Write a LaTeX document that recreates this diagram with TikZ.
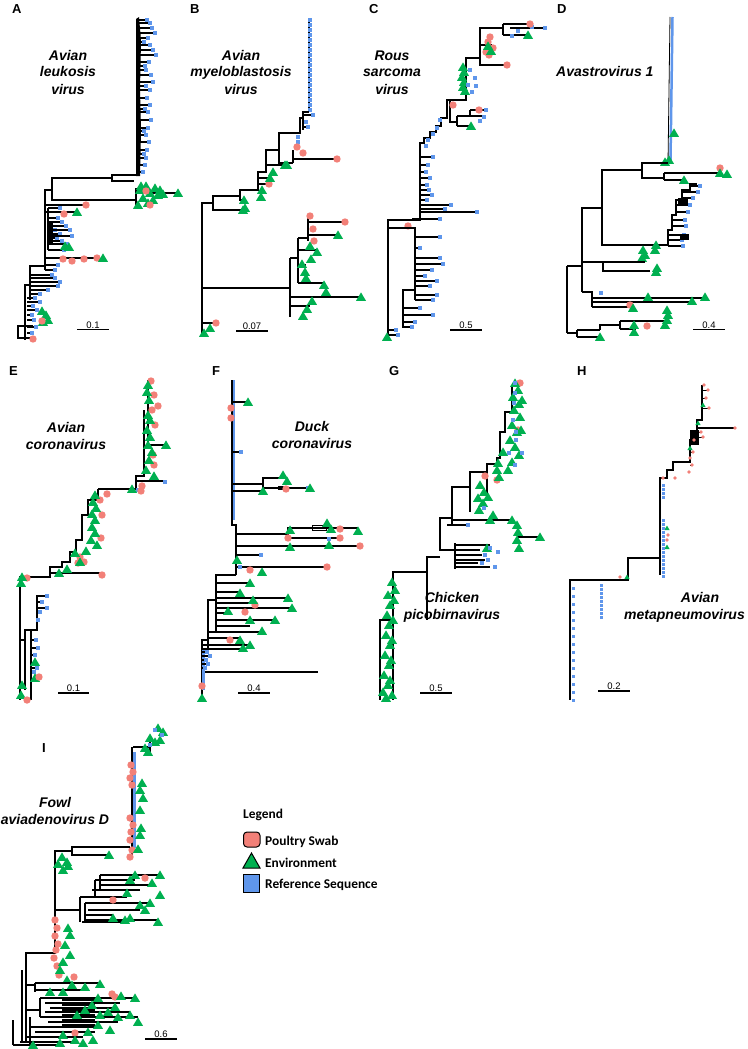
\documentclass[tikz,border=0pt]{standalone}
\usepackage{fontspec}
\setmainfont{Liberation Sans}
\newfontfamily\legendfont{Carlito}
\definecolor{swabred}{RGB}{242,128,120}
\definecolor{envgreen}{RGB}{0,176,80}
\definecolor{refblue}{RGB}{95,150,235}
\tikzset{
  tree/.style={line width=1.3pt},
  panel/.style={font=\fontsize{13}{13}\selectfont\bfseries, anchor=base west, inner sep=0pt},
  virus/.style={font=\fontsize{14}{17}\selectfont\bfseries\itshape, anchor=base, inner sep=0pt},
  legtext/.style={font=\legendfont\fontsize{13.4}{14}\selectfont\bfseries, anchor=base west, inner sep=0pt},
  swab/.pic={\fill[swabred] (0,0) circle (3.7);},
  env/.pic={\fill[envgreen] (-5,3.8) -- (5,3.8) -- (0,-4.6) -- cycle;},
  refs/.pic={\fill[refblue] (-2,-2) rectangle (2,2);},
  swabsm/.pic={\fill[swabred] (0,0) circle (1.9);},
  envsm/.pic={\fill[envgreen] (-2.6,2) -- (2.6,2) -- (0,-2.4) -- cycle;},
  refsm/.pic={\fill[refblue] (-1.5,-1.5) rectangle (1.5,1.5);}
}
% tip markers from lists x/y
\newcommand{\swabs}[1]{\foreach \x/\y in {#1} \pic at (\x,\y) {swab};}
\newcommand{\envs}[1]{\foreach \x/\y in {#1} \pic at (\x,\y) {env};}
\newcommand{\refseqs}[1]{\foreach \x/\y in {#1} \pic at (\x,\y) {refs};}
\newcommand{\reftips}[2]{\foreach \x/\y in {#2} {\draw[tree] (#1,\y) -- (\x,\y); \pic at (\x,\y) {refs};}}
\newcommand{\scalebar}[5]{\draw[tree] (#2,#4) -- (#3,#4) node[midway, above=0.6pt, inner sep=0pt, font=\fontsize{9.5}{10}\selectfont] (#1) {#5};}

\begin{document}
\begin{tikzpicture}[x=1pt,y=-1pt]
\useasboundingbox (0,0) rectangle (747,1049);

% panel letters
\node[panel] (pA) at (12,13.5) {A};
\node[panel] (pB) at (190,13.5) {B};
\node[panel] (pC) at (369,13.5) {C};
\node[panel] (pD) at (557,13.5) {D};
\node[panel] (pE) at (9,375) {E};
\node[panel] (pF) at (212,375) {F};
\node[panel] (pG) at (389,375) {G};
\node[panel] (pH) at (577,375) {H};
\node[panel] (pI) at (42,752) {I};

% virus names
\node[virus] (nA1) at (68,60) {Avian};
\node[virus] (nA2) at (68,77) {leukosis};
\node[virus] (nA3) at (68,94) {virus};
\node[virus] (nB1) at (241,60) {Avian};
\node[virus] (nB2) at (241,77) {myeloblastosis};
\node[virus] (nB3) at (241,94) {virus};
\node[virus] (nC1) at (392,60) {Rous};
\node[virus] (nC2) at (392,77) {sarcoma};
\node[virus] (nC3) at (392,94) {virus};
\node[virus, anchor=base west] (nD1) at (556,77) {Avastrovirus 1};
\node[virus] (nE1) at (66,432) {Avian};
\node[virus] (nE2) at (66,449) {coronavirus};
\node[virus] (nF1) at (312,431) {Duck};
\node[virus] (nF2) at (312,448) {coronavirus};
\node[virus] (nG1) at (452,602) {Chicken};
\node[virus] (nG2) at (452,619) {picobirnavirus};
\node[virus] (nH1) at (700,602) {Avian};
\node[virus, anchor=base east] (nH2) at (745,619) {metapneumovirus};
\node[virus] (nI1) at (55,807) {Fowl};
\node[virus] (nI2) at (55,824) {aviadenovirus D};

% scale bars
\scalebar{sA}{77}{109}{329.5}{0.1}
\scalebar{sB}{236}{268}{331}{0.07}
\scalebar{sC}{450}{482}{330}{0.5}
\scalebar{sD}{693}{725}{329.5}{0.4}
\scalebar{sE}{58}{89}{693}{0.1}
\scalebar{sF}{238}{270}{693}{0.4}
\scalebar{sG}{420}{452}{693}{0.5}
\scalebar{sH}{598}{630}{691}{0.2}
\scalebar{sI}{145}{177}{1039}{0.6}

% ---------- A ----------
\fill (136,19) -- (139,17) -- (141,40) -- (140,90) -- (141,130) -- (140,176) -- (136,176) -- cycle;
\reftips{139}{147/20, 150/23, 152/28, 155/33, 148/38, 144/42, 150/45, 153/50, 156/55, 149/62, 145/66, 146/70, 151/75, 153/82, 146/86, 150/90, 147/98, 150/105, 145/109, 148/112, 151/120, 148/128, 144/131, 146/135, 149/142, 147/150, 144/154, 146/158, 145/165, 143/172}
\draw[tree] (137,175) -| (112,181) -- (134,181);
\draw[tree] (112,178) -- (52,178) -- (52,200) -- (136,200);
\draw[tree] (136,188) -- (136,206);
\draw[tree] (136,193) -- (178,193);
\envs{140/190, 146/186, 150/193, 155/188, 158/195, 143/198, 148/203, 138/205, 153/200, 160/190, 163/194, 141/186, 178/193}
\swabs{150/205, 146/191}
\draw[tree] (52,190) -| (45,270);
\draw[tree] (45,205) -- (86,205);
\draw[tree] (48,208) -- (48,250);
\fill (47,222) rectangle (53,245);
\reftips{48}{60/208, 58/218, 62/222, 66/226, 55/230, 60/234, 70/230, 57/238, 72/236, 62/241, 67/244, 64/250}
\draw[tree] (45,212) -- (77,212);
\swabs{86/205, 64/214}
\envs{65/246, 69/247, 77/212}
\draw[tree] (45,258) -- (100,258);
\swabs{63/259, 72/261, 84/259, 97/258}
\envs{103/258}
\reftips{45}{58/265, 55/270}
\draw[tree] (45,266) -| (30,300);
\reftips{30}{52/275, 55/278, 60/282, 58/286, 48/290, 40/294}
\draw[tree] (30,285) -| (25,340);
\reftips{27}{35/298, 40/302, 33/306, 37/310, 32/315, 34/320, 36/327, 32/333}
\draw[tree] (33,326) -| (18,338) -- (33,338);
\envs{42/311, 46/315, 48/320, 43/322}
\swabs{42/321, 33/339}

% ---------- B ----------
\draw[tree] (309,20) -- (309,112);
\foreach \y in {20,25,...,110} \pic at (310,\y) {refs};
\draw[tree] (309,112) -| (303,130);
\reftips{303}{313/115, 306/122, 308/127}
\draw[tree] (303,118) -| (300,133) -- (279,133) -- (279,163) -- (293,163);
\refseqs{298/137, 298/142}
\draw[tree] (293,150) -- (293,163);
\draw[tree] (293,159) -- (337,159);
\draw[tree] (279,150) -- (266,150) -- (266,172) -- (258,172) -- (258,190) -- (240,190) -- (240,200) -- (244,200);
\draw[tree] (266,165) -- (285,165);
\draw[tree] (258,178) -- (270,178);
\draw[tree] (258,184) -- (269,184);
\draw[tree] (240,196) -| (213,210) -- (243,210);
\draw[tree] (213,203) -- (202,203) -- (202,333);
\swabs{297/147, 303/153, 337/159, 269/184}
\envs{287/165, 285/165, 273/172, 270/178, 262/190, 261/197, 244/200, 245/208, 243/210}
\draw[tree] (202,288) -- (290,288);
\draw[tree] (290,258) -- (290,317) (290,258) -- (298,258);
\draw[tree] (298,238) -- (298,283) (298,238) -- (308,238);
\draw[tree] (345,222) -| (308,241);
\draw[tree] (308,216) -- (308,241) (308,235) -- (338,235);
\draw[tree] (298,250) -- (316,250) (298,265) -- (306,265) (298,283) -- (324,283);
\draw[tree] (290,297) -- (361,297) (290,306) -- (310,306);
\draw[tree] (202,323) -- (216,323);
\swabs{310/216, 313/229, 314/241, 345/222, 216/323}
\envs{338/235, 310/246, 317/252, 311/259, 302/264, 305/272, 306/278, 324/285, 361/297, 326/292, 312/301, 307/309, 303/316, 204/333, 210/328}

% ---------- C ----------
\draw[tree] (503,28) -| (480,65) -- (507,65);
\draw[tree] (503,24) -- (503,35) (503,24) -- (530,24) (510,28) -- (545,28) (503,35) -- (528,35);
\refseqs{532/27, 545/28, 518/31, 512/36}
\draw[tree] (480,45) -- (492,45);
\swabs{530/24, 490/37, 488/42, 493/48, 486/52, 489/55, 507/65}
\envs{528/35, 488/46, 491/51}
\draw[tree] (480,58) -| (466,100) -- (450,100);
\envs{463/67, 464/72, 462/77, 464/82, 463/87, 465/91}
\refseqs{470/70, 475/78, 468/85, 472/92, 476/86}
\draw[tree] (450,100) |- (457,122);
\draw[tree] (457,116) -- (457,126) (457,116) -- (484,116) (457,126) -- (471,126) (470,110) -- (486,110) (470,110) -- (470,116);
\swabs{453/105, 479/110}
\refseqs{486/110, 484/117, 480/121}
\envs{471/126}
\draw[tree] (450,100) -- (447,100) -- (447,118) -- (441,118) -- (441,126) -- (436,126) -- (436,132) -- (430,132) -- (430,138) -- (424,138) -- (424,143) -- (420,143) -- (420,220) -- (388,220) -- (388,340);
\reftips{420}{433/157, 428/165, 426/172, 430/178, 427/185, 429/190, 432/195, 427/200, 451/205, 445/209, 477/212}
\refseqs{440/120, 437/128, 433/134, 428/140, 426/146}
\reftips{412}{440/219}
\swabs{408/226}
\draw[tree] (388,228) -- (415,228) -- (415,300);
\reftips{415}{440/237, 420/248, 440/258, 443/264, 432/270, 425/276, 437/281, 430/286, 437/295, 433/300}
\draw[tree] (415,290) -| (403,328);
\reftips{403}{433/315, 420/308, 415/322, 412/327}
\reftips{388}{396/330, 398/335}
\envs{387/337}

% ---------- D ----------
\draw[refblue, line width=2.5pt] (672.5,17) -- (670.5,160);
\draw[line width=0.8pt] (670,17) -- (668,163);
\envs{674/133, 665/162, 669/160}
\draw[tree] (668,163) -- (642,163) -- (642,178) -- (664,178);
\draw[tree] (664,173) -- (664,180) (664,173) -- (720,173) (664,180) -- (684,180);
\swabs{720/168}
\envs{720/173, 727/174, 684/180}
\draw[tree] (642,170) -- (602,170) -- (602,245) -- (668,245);
\draw[tree] (668,245) -- (668,230) -- (672,230) -- (672,215) -- (676,215) -- (676,200) -- (682,200) -- (682,190) -- (690,190) -- (690,184) -- (697,184);
\foreach \a/\b/\y in {690/700/186, 682/698/192, 682/693/198, 676/690/205, 676/688/212, 672/685/220, 672/686/226, 668/684/235, 668/682/240, 668/683/246}
  {\draw[tree] (\a,\y) -- (\b,\y); \pic at (\b,\y) {refs};}
\fill (678,198) rectangle (688,205);
\fill (680,234) rectangle (689,240);
\envs{643/250, 655/250, 642/258, 657/268, 656/245, 656/272, 645/255}
\draw[tree] (602,208) -- (582,208) -- (582,292);
\draw[tree] (582,262) -- (645,262);
\draw[tree] (603,262) -- (603,271) -- (650,271);
\draw[tree] (567,266) -- (583,266) (567,266) -- (567,333);
\draw[tree] (582,292) -- (592,292) -- (592,307);
\draw[tree] (592,298) -- (705,298) (592,302) -- (690,302) (592,307) -- (632,307);
\refseqs{601/293}
\swabs{630/305}
\envs{648/297, 692/301, 705/297, 633/308}
\draw[tree] (567,333) -- (577,333) (577,330) -- (577,337) (577,330) -- (600,330) (577,337) -- (600,337);
\draw[tree] (600,330) -- (600,325) -- (620,325);
\draw[tree] (620,321) -- (620,329) (620,321) -- (668,321) (620,329) -- (636,329);
\swabs{647/326}
\envs{600/337, 634/325, 634/332, 667/310, 668/315, 667/320, 665/325}

% ---------- E ----------
\draw[tree] (148,380) -- (148,445) -- (166,445);
\draw[tree] (144,410) -- (144,476) -- (136,476) -- (136,489) -- (98,489);
\draw[tree] (136,481) -- (165,481);
\draw[tree] (98,489) -- (98,500) -- (88,500) -- (88,515) -- (82,515) -- (82,540) -- (76,540) -- (76,552) -- (70,552) -- (70,562) -- (62,562) -- (62,567) -- (50,567) -- (50,577) -- (20,577) -- (20,700);
\draw[tree] (50,573) -- (102,573);
\refseqs{165/482, 138/490}
\swabs{151/381, 154/395, 152/410, 155/425, 153/455, 154/465, 158/406, 142/486, 141/491, 107/494, 100/500, 101/538, 102/515, 78/563, 84/562, 80/557, 102/575, 27/578}
\envs{148/385, 147/392, 149/400, 148/415, 150/420, 147/430, 150/437, 148/445, 152/452, 149/460, 146/470, 166/445, 154/476, 132/489, 95/495, 93/502, 96/508, 92/514, 95/520, 92/527, 95/533, 91/540, 97/545, 86/551, 75/553, 80/562, 67/569, 59/573, 22/577}
\draw[tree] (47,596) -- (37,596) -- (37,630) -- (25,630) -- (25,690);
\draw[tree] (20,640) -- (25,640);
\draw[tree] (37,608) -- (47,608);
\reftips{37}{42/602, 40/612, 38/620}
\refseqs{47/596, 47/608}
\draw[tree] (31,630) -- (31,700);
\reftips{31}{36/640, 38/648, 35/655, 37/668, 34/672}
\envs{35/662, 35/678, 22/685, 21/695, 21/583}
\swabs{39/677, 27/700}

% ---------- F ----------
\draw[refblue, line width=3.5pt] (233,380) -- (233,520);
\draw[tree] (232,380) -- (232,525) -- (236,525) -- (236,575);
\draw[tree] (233,402) -- (248,402) (233,452) -- (241,452);
\draw[tree] (232,484) -| (263,478) -- (283,478);
\draw[tree] (263,484) |- (278,488) -- (310,488);
\draw[tree] (232,491) -- (262,491);
\fill (278,486) rectangle (286,490);
\refseqs{241/452, 308/488}
\swabs{231/408, 231/418, 286/489}
\envs{248/402, 283/475, 287/481, 310/488, 263/491}
\draw[tree] (236,534) -| (288,528) -- (358,528);
\draw[tree] (288,534) -- (288,538) -- (340,538);
\draw[line width=1pt] (312,525.5) rectangle (326,530.5);
\draw[tree] (236,546) -- (360,546) (236,555) -- (262,555) (236,567) -- (327,567);
\refseqs{329/539, 261/555, 240/567}
\swabs{288/538, 340/538, 340/529, 360/546, 327/567, 250/570}
\envs{290/530, 327/523, 331/529, 358/531, 329/545, 290/547, 237/560, 262/572}
\draw[tree] (236,575) -- (216,575) -- (216,632);
\draw[tree] (216,600) -- (208,600) -- (208,648);
\draw[tree] (208,640) -- (202,640) -- (202,700);
\draw[tree] (216,583) -- (250,583) (216,592) -- (240,592) (216,598) -- (288,598) (216,603) -- (253,603) (216,608) -- (292,608) (216,613) -- (228,613) (216,620) -- (275,620) (216,626) -- (250,626);
\draw[tree] (208,632) -- (262,632) (208,638) -- (240,638);
\draw[tree] (202,645) -- (250,645) (202,649) -- (240,649) (202,672) -- (318,672);
\draw[refblue, line width=3pt] (203,650) -- (203,690);
\reftips{202}{207/652, 210/656, 206/660, 208/664, 205/668}
\swabs{255/605, 245/612, 230/640, 202/686}
\envs{250/583, 240/593, 253/600, 288/598, 292/608, 228/611, 275/620, 250/620, 262/631, 240/640, 243/648, 250/645, 202/698}

% ---------- G ----------
\draw[tree] (512,385) -- (512,412) -- (505,412) -- (505,432) -- (500,432) -- (500,458) -- (497,458) -- (497,464) -- (487,464) -- (487,495);
\draw[tree] (487,472) -- (470,472) -- (470,512);
\draw[tree] (470,487) -- (452,487) -- (452,525);
\draw[tree] (452,520) -- (512,520) (517,537) -- (540,537);
\draw[tree] (452,518) -- (440,518) -- (440,550) -- (455,550);
\draw[tree] (447,525) -- (468,525);
\draw[tree] (455,543) -- (455,569);
\foreach \a/\y in {490/545, 480/550, 482/555, 485/560, 478/563, 490/567} \draw[tree] (455,\y) -- (\a,\y);
\draw[tree] (440,557) -- (427,557) -- (427,620);
\draw[tree] (427,572) -- (393,572) -- (393,700);
\draw[tree] (393,620) -- (380,620) -- (380,700);
\swabs{520/383, 518/430, 497/480, 485/476}
\envs{515/383, 518/390, 513/397, 519/404, 514/410, 520/417, 512/425, 517/432, 510/440, 515/447, 519/455, 512/462, 508/470, 522/400, 521/430, 503/452, 498/463, 497/470, 499/477, 480/485, 484/492, 478/498, 483/503, 479/510, 488/497, 493/515, 490/520, 512/520, 517/525, 518/532, 517/540, 519/548, 540/537, 487/548}
\envs{392/582, 395/590, 388/595, 394/600, 390/605, 387/615, 393/620, 389/625, 386/635, 392/640, 390/645, 385/655, 391/660, 389/665, 384/675, 390/680, 388/685, 383/692, 386/698, 392/695}
\refseqs{515/383, 515/393, 514/403, 513/420, 516/432, 516/440, 509/453, 522/453, 515/465, 484/508, 468/525, 490/548, 485/555, 488/560, 482/563, 495/567, 498/552}

% ---------- H ----------
\draw[tree] (702,385) -- (702,420) -- (697,420) -- (697,440) -- (690,440) -- (690,462) -- (673,462) -- (673,470) -- (667,470) -- (667,478) -- (660,478) -- (660,575);
\draw[tree] (697,428) -- (735,428);
\foreach \a/\b/\y in {702/708/390, 702/706/398, 702/709/408, 697/701/432, 697/703/437, 690/694/452, 690/693/465}
  {\draw[line width=1pt] (\a,\y) -- (\b,\y);}
\fill (690,430) rectangle (699,445);
\draw[tree] (660,558) -- (628,558) -- (628,580) -- (570,580) -- (570,700);
\foreach \x/\y in {704/385, 708/390, 706/398, 709/408, 735/428, 701/432, 703/437, 694/440, 693/452, 690/458, 692/465, 689/472, 675/478, 663/478, 667/540, 668/535, 620/577} \pic at (\x,\y) {swabsm};
\foreach \x/\y in {703/405, 698/423, 690/448, 667/528, 667/547, 627/577} \pic at (\x,\y) {envsm};
\foreach \y in {485,489,...,497,520,524,...,576} \pic at (663,\y) {refsm};
\foreach \y in {585,589,...,620} \pic at (601,\y) {refsm};
\foreach \y in {588,596,...,700} \pic at (573,\y) {refsm};

% ---------- I ----------
\draw[tree] (150,740) -- (150,752) (133,747) -- (150,747);
\draw[tree] (132,747) -- (132,857);
\draw[refblue, line width=3pt] (134,752) -- (134,848);
\envs{158/728, 163/732, 150/738, 155/742, 145/748, 148/752, 160/740}
\refseqs{155/730, 162/735, 150/745}
\swabs{131/765, 133/772, 130/778, 132/785, 130/818, 133/825, 131/832, 130/840, 132/850, 130/857}
\envs{142/783, 140/790, 143/798, 140/810, 141/828, 140/835, 138/849}
\draw[tree] (130,847) -| (72,855) -- (108,855);
\envs{109/855}
\draw[tree] (72,851) -- (55,851) -- (55,953) -| (26,1042);
\draw[tree] (55,910) -- (80,910) (80,897) -- (80,922);
\draw[tree] (100,875) -- (100,890) (95,880) -- (95,897) (85,903) -- (85,922);
\foreach \a/\b/\y in {100/160/875, 95/135/880, 100/150/885, 92/140/890, 80/127/897, 85/150/903, 88/140/910, 85/113/915, 85/158/920, 82/125/922}
  \draw[tree] (\a,\y) -- (\b,\y);
\swabs{145/878, 113/900}
\envs{160/875, 152/883, 160/895, 158/922, 135/875, 130/880, 127/893, 140/905, 145/910, 125/920, 113/918, 130/918, 150/903}
\swabs{55/920, 57/928, 55/936, 58/944, 56/950, 54/958, 57/966, 59/975}
\envs{62/857, 67/862, 58/864, 63/870, 68/866, 68/928, 70/935, 65/945, 70/955, 63/962, 60/970, 67/980}
\draw[tree] (22,970) -- (22,1042) (13,1020) -- (13,1045);
\draw[tree] (26,985) -- (35,985) (35,983) -- (35,992) (35,983) -- (100,983) (35,990) -- (85,990);
\swabs{74/977}
\envs{100/984, 50/992, 63/992, 72/985, 85/987}
\foreach \a/\b/\y in {40/135/998, 45/120/1003, 50/115/1008, 45/130/1012, 40/138/1017, 48/118/1022, 30/100/1027, 35/95/1032, 25/83/1037, 20/75/1042, 13/60/1045}
  \draw[tree] (\a,\y) -- (\b,\y);
\draw[tree] (40,998) -- (40,1017) (30,1017) -- (30,1045) (26,1010) -- (40,1010);
\foreach \y in {1000,1002.5,...,1025} \draw[tree] (62,\y) -- (95,\y);
\swabs{112/994, 115/997, 75/1033}
\envs{135/998, 121/996, 98/998, 92/1005, 85/1010, 108/1012, 115/1007, 130/1015, 138/1022, 118/1017, 100/1015, 98/1025, 77/1015, 63/1035, 75/1040, 83/1043, 93/1040, 60/1043, 33/1045, 110/1030, 88/1032}

% ---------- legend ----------
\node[legtext] (legtitle) at (243,818) {Legend};
\draw[fill=swabred, rounded corners=3.5pt, line width=1pt] (243.5,832) rectangle (260,847);
\draw[fill=envgreen, line width=1pt] (243,868) -- (260,868) -- (251.5,853) -- cycle;
\draw[fill=refblue, line width=1pt] (243.5,874.5) rectangle (259,892.5);
\node[legtext] (legswab) at (265,845) {Poultry Swab};
\node[legtext] (legenv) at (265,867) {Environment};
\node[legtext] (legref) at (265,888) {Reference Sequence};
\end{tikzpicture}
\end{document}
